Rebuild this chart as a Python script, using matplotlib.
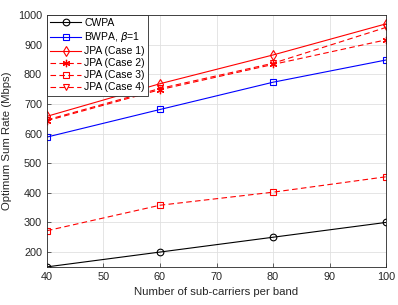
import matplotlib
matplotlib.use("Agg")
import matplotlib.pyplot as plt

carriers = [40, 60, 80, 100]
cwpa = [150, 200, 250, 300]
bwpa = [588, 681, 773, 848]
jpa_case1 = [658, 768, 865, 970]
jpa_case2 = [643, 748, 833, 916]
jpa_case3 = [272, 358, 402, 454]
jpa_case4 = [646, 752, 837, 958]

plt.rcParams["font.family"] = "Liberation Sans"

fig = plt.figure(figsize=(3.98, 3.05), dpi=100)
ax = fig.add_axes([0.118, 0.125, 0.852, 0.826])

lw = 0.8
ms = 4.8
dash = (0, (5, 3))
ax.plot(carriers, cwpa, "k-o", lw=lw, ms=ms, mfc="none", mew=0.8, label="CWPA")
ax.plot(carriers, bwpa, "b-s", lw=lw, ms=ms, mfc="none", mew=0.8, label=r"BWPA, $\beta$=1")
ax.plot(carriers, jpa_case1, "r-d", lw=lw, ms=ms + 0.5, mfc="none", mew=0.8, label="JPA (Case 1)")
ax.plot(carriers, jpa_case2, color="r", ls=dash, marker=(6, 2, 0), lw=lw, ms=ms + 0.5, mew=0.9,
        label="JPA (Case 2)")
ax.plot(carriers, jpa_case3, color="r", ls=dash, marker="s", lw=lw, ms=ms, mfc="none", mew=0.8,
        label="JPA (Case 3)")
ax.plot(carriers, jpa_case4, color="r", ls=dash, marker="v", lw=lw, ms=ms, mfc="none", mew=0.8,
        label="JPA (Case 4)")

ax.set_xlim(40, 100)
ax.set_ylim(150, 1000)
ax.set_xticks(range(40, 101, 10))
ax.set_yticks(range(200, 1001, 100))
ax.grid(True, color="#e0e0e0", lw=0.6)
ax.set_axisbelow(True)
ax.tick_params(direction="in", labelsize=7.8, colors="#262626", length=3, width=0.5)
for s in ax.spines.values():
    s.set_linewidth(0.6)
    s.set_color("#262626")

ax.set_xlabel("Number of sub-carriers per band", fontsize=8.2, color="#262626")
ax.set_ylabel("Optimum Sum Rate (Mbps)", fontsize=8.2, color="#262626")

leg = ax.legend(loc="upper left", fontsize=7.5, fancybox=False, framealpha=1,
                edgecolor="#262626", borderaxespad=0, handlelength=3.0,
                handletextpad=0.3, labelspacing=0.2, borderpad=0.3)
leg.get_frame().set_linewidth(0.6)

fig.savefig("out.png", dpi=100)
